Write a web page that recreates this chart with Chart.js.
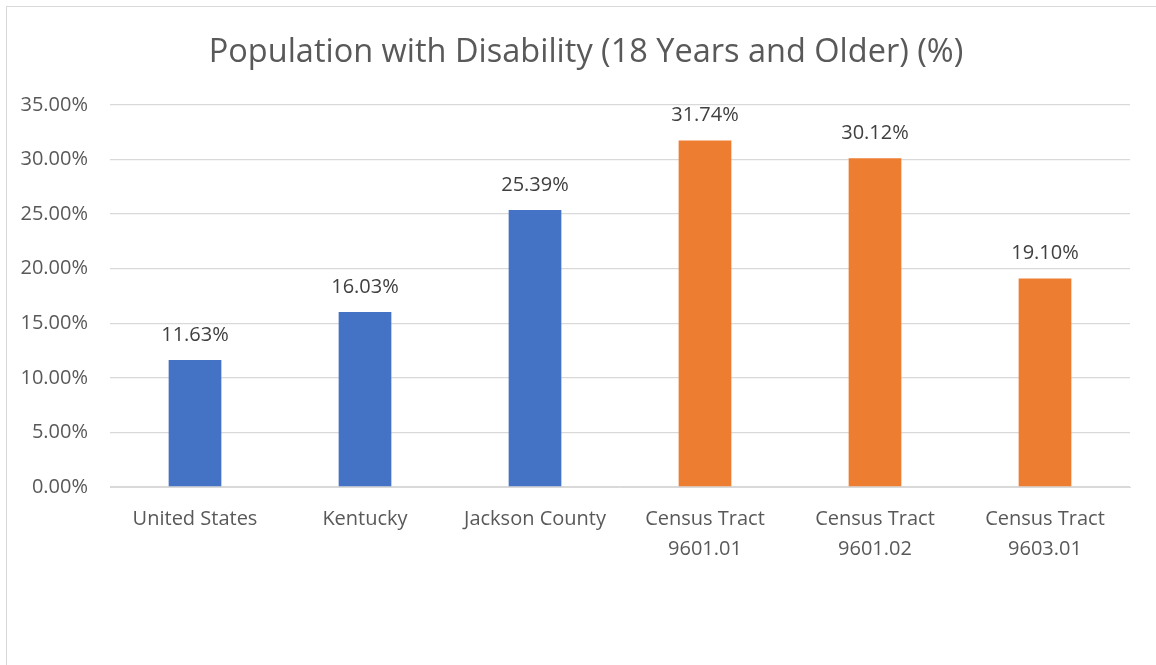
<!DOCTYPE html>
<html>
<head>
<meta charset="utf-8">
<title>Population with Disability (18 Years and Older) (%)</title>
<script src="https://cdn.jsdelivr.net/npm/chart.js@4/dist/chart.umd.min.js"></script>
<style>
  html, body { margin: 0; padding: 0; background: #fff; overflow: hidden; }
  body { width: 1156px; height: 665px; position: relative; }
  #frame {
    position: absolute; left: 6px; top: 6px;
    width: 1158px; height: 680px;
    border-left: 1px solid #d9d9d9; border-top: 1px solid #d9d9d9;
    background: #fff;
  }
  #wrap { position: absolute; left: 0; top: 0; width: 1158px; height: 658px; }
</style>
</head>
<body>
<div id="frame"><div id="wrap"><canvas id="chart"></canvas></div></div>
<script>
// Disability share of the population aged 18+, by geography
const categories = [
  'United States',
  'Kentucky',
  'Jackson County',
  ['Census Tract', '9601.01'],
  ['Census Tract', '9601.02'],
  ['Census Tract', '9603.01']
];
const disabilityPct = [11.63, 16.03, 25.39, 31.74, 30.12, 19.10];
// Geography level: area-wide benchmarks vs. local census tracts
const geoLevel = ['area', 'area', 'area', 'tract', 'tract', 'tract'];
const yTicks = [0, 5, 10, 15, 20, 25, 30, 35];
const chartTitle = 'Population with Disability (18 Years and Older) (%)';

const levelColor = { area: '#4472C4', tract: '#ED7D31' };
const FONT = "'Open Sans', 'Noto Sans', sans-serif";

// Title centred on the whole chart box (not just the padded layout area)
const centeredTitle = {
  id: 'centeredTitle',
  afterDraw(chart) {
    const ctx = chart.ctx;
    ctx.save();
    ctx.font = '32.5px ' + FONT;
    ctx.fillStyle = '#595959';
    ctx.textAlign = 'center';
    ctx.textBaseline = 'middle';
    ctx.fillText(chartTitle, chart.width / 2, 46);
    ctx.restore();
  }
};

// Value labels drawn above each bar
const barValueLabels = {
  id: 'barValueLabels',
  afterDatasetsDraw(chart) {
    const ctx = chart.ctx;
    const meta = chart.getDatasetMeta(0);
    const values = chart.data.datasets[0].data;
    ctx.save();
    ctx.font = '20px ' + FONT;
    ctx.fillStyle = '#404040';
    ctx.textAlign = 'center';
    ctx.textBaseline = 'middle';
    meta.data.forEach((bar, i) => {
      ctx.fillText(values[i].toFixed(2) + '%', bar.x, bar.y - 25);
    });
    ctx.restore();
  }
};

new Chart(document.getElementById('chart'), {
  type: 'bar',
  data: {
    labels: categories,
    datasets: [{
      data: disabilityPct,
      backgroundColor: geoLevel.map(g => levelColor[g]),
      borderWidth: 0,
      categoryPercentage: 1.0,
      barPercentage: 0.31
    }]
  },
  options: {
    responsive: true,
    maintainAspectRatio: false,
    animation: false,
    layout: { padding: { left: 0, right: 35, top: 98, bottom: 0 } },
    plugins: {
      legend: { display: false },
      tooltip: { enabled: false },
      title: { display: false }
    },
    scales: {
      x: {
        grid: { display: false, drawTicks: false },
        border: { display: true, color: '#d9d9d9', width: 1 },
        ticks: {
          color: '#595959',
          font: { family: FONT, size: 20, lineHeight: 1.5 },
          padding: 17,
          maxRotation: 0,
          autoSkip: false
        },
        afterFit(axis) { axis.height = 178; }
      },
      y: {
        min: 0,
        max: 35,
        afterBuildTicks(axis) { axis.ticks = yTicks.map(v => ({ value: v })); },
        grid: { color: '#d9d9d9', lineWidth: 1.3, drawTicks: false },
        border: { display: false },
        ticks: {
          color: '#595959',
          font: { family: FONT, size: 20 },
          padding: 22,
          callback: v => Number(v).toFixed(2) + '%'
        },
        afterFit(axis) { axis.width = 103; }
      }
    }
  },
  plugins: [barValueLabels, centeredTitle]
});
</script>
</body>
</html>
